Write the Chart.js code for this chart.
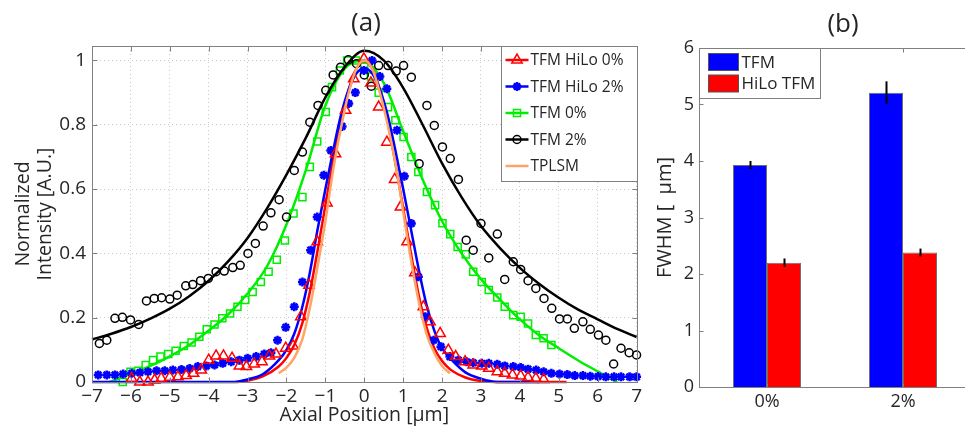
<!DOCTYPE html>
<html>
<head>
<meta charset="utf-8">
<script src="https://cdn.jsdelivr.net/npm/chart.js@4.4.1/dist/chart.umd.min.js"></script>
<style>
  html, body { margin: 0; padding: 0; background: #fff; overflow: hidden; width: 965px; height: 430px; }
  canvas { position: absolute; top: 0; }
  #chartA { left: 0; }
  #chartB { left: 645px; }
  .ttl { position: absolute; font: 26px "Open Sans", sans-serif; color: #262626; transform: translate(-50%, -50%); white-space: nowrap; }
</style>
</head>
<body>
<canvas id="chartA" width="645" height="430"></canvas>
<canvas id="chartB" width="330" height="430"></canvas>
<div class="ttl" style="left:366px;top:21px">(a)</div>
<div class="ttl" style="left:843px;top:22px">(b)</div>
<script>
const FONT = '"Open Sans", sans-serif';
const TXT = '#262626';
const AXIS = '#808080';

// ---- (a) axial profiles ----
const xTicks = [-7, -6, -5, -4, -3, -2, -1, 0, 1, 2, 3, 4, 5, 6, 7];
const yTicks = [0, 0.2, 0.4, 0.6, 0.8, 1];
const seriesNames = ['TFM HiLo 0%', 'TFM HiLo 2%', 'TFM 0%', 'TFM 2%', 'TPLSM'];

// TFM HiLo 0% (measured, triangles)
const hilo0PtsX = [-5.98,-5.77,-5.56,-5.39,-5.22,-5.0,-4.79,-4.58,-4.39,-4.19,-4.0,-3.81,-3.62,-3.4,-3.21,-3.03,-2.83,-2.63,-2.44,-2.27,-2.02,-1.83,-1.63,-1.42,-1.21,-0.96,-0.74,-0.48,-0.27,-0.01,0.17,0.37,0.58,0.78,0.93,1.1,1.3,1.52,1.69,1.95,2.16,2.35,2.59,2.8,3.02,3.2,3.42,3.61,3.81,4.02,4.21,4.41,4.61];
const hilo0PtsY = [0.011,0,0,0.006,0.011,0.015,0.016,0.02,0.027,0.037,0.068,0.081,0.081,0.074,0.05,0.048,0.056,0.063,0.081,0.087,0.105,0.112,0.203,0.301,0.436,0.557,0.71,0.845,0.943,1.005,0.93,0.855,0.746,0.63,0.544,0.436,0.34,0.234,0.187,0.151,0.099,0.079,0.063,0.053,0.05,0.043,0.032,0.027,0.022,0.019,0.014,0.011,0.008];
const hilo0FitX = [-3.3,-3.0,-2.6,-2.2,-2.0,-1.8,-1.6,-1.4,-1.2,-1.0,-0.8,-0.6,-0.4,-0.2,0,0.2,0.4,0.6,0.8,1.0,1.2,1.4,1.6,1.8,2.0,2.2,2.6,3.0,3.4,5.2];
const hilo0FitY = [0,0.004,0.018,0.048,0.075,0.115,0.18,0.28,0.41,0.55,0.69,0.81,0.91,0.975,1.0,0.975,0.91,0.81,0.68,0.54,0.40,0.27,0.17,0.105,0.065,0.04,0.014,0.003,0,0];

// TFM HiLo 2% (measured, stars)
const hilo2PtsX = [-6.84,-6.62,-6.41,-6.2,-5.98,-5.77,-5.56,-5.34,-5.13,-4.92,-4.7,-4.49,-4.28,-4.06,-3.85,-3.64,-3.42,-3.21,-3.0,-2.78,-2.57,-2.4,-2.23,-2.02,-1.8,-1.59,-1.38,-1.21,-1.04,-0.86,-0.57,-0.4,-0.23,-0.01,0.2,0.4,0.58,0.84,1.03,1.21,1.39,1.57,1.78,1.97,2.2,2.42,2.63,2.8,3.02,3.2,3.42,3.61,3.83,4.02,4.21,4.42,4.61,4.81,5.02,5.22,5.41,5.62,5.81,6.01,6.21,6.42,6.6,6.82,7.0];
const hilo2PtsY = [0.022,0.022,0.022,0.025,0.027,0.029,0.032,0.035,0.035,0.037,0.039,0.042,0.048,0.05,0.053,0.058,0.063,0.068,0.074,0.079,0.087,0.091,0.13,0.17,0.234,0.311,0.41,0.513,0.643,0.72,0.795,0.866,0.9,0.969,1.0,0.95,0.912,0.783,0.64,0.493,0.327,0.203,0.13,0.11,0.079,0.068,0.063,0.06,0.058,0.058,0.055,0.05,0.048,0.045,0.04,0.037,0.032,0.027,0.025,0.023,0.02,0.02,0.018,0.017,0.016,0.016,0.016,0.016,0.016];
const hilo2FitX = [-7,-3.4,-3.0,-2.6,-2.2,-2.0,-1.8,-1.6,-1.4,-1.2,-1.0,-0.8,-0.6,-0.4,-0.2,0,0.2,0.4,0.6,0.8,1.0,1.2,1.4,1.6,1.8,2.0,2.2,2.6,3.0,3.4,4.5];
const hilo2FitY = [0,0,0.008,0.025,0.068,0.10,0.15,0.23,0.34,0.475,0.60,0.72,0.83,0.91,0.96,0.975,0.96,0.91,0.83,0.72,0.60,0.475,0.35,0.24,0.16,0.105,0.075,0.03,0.01,0,0];

// TFM 0% (measured, squares)
const tfm0PtsX = [-6.21,-6.01,-5.81,-5.62,-5.43,-5.24,-5.04,-4.85,-4.64,-4.44,-4.24,-4.05,-3.85,-3.65,-3.45,-3.26,-3.06,-2.87,-2.66,-2.46,-2.25,-2.04,-1.82,-1.59,-1.4,-1.21,-0.99,-0.83,-0.63,-0.44,-0.22,0.0,0.17,0.37,0.61,0.8,1.01,1.21,1.39,1.61,1.82,2.01,2.21,2.4,2.61,2.8,3.02,3.2,3.42,3.61,3.83,4.02,4.21,4.41,4.61,4.81];
const tfm0PtsY = [0.0,0.032,0.035,0.053,0.068,0.079,0.087,0.097,0.112,0.123,0.141,0.164,0.179,0.198,0.213,0.234,0.255,0.28,0.311,0.343,0.38,0.44,0.524,0.575,0.669,0.748,0.84,0.917,0.969,1.0,1.0,0.98,0.95,0.9,0.855,0.814,0.762,0.7,0.653,0.591,0.55,0.494,0.46,0.42,0.397,0.343,0.311,0.286,0.263,0.234,0.208,0.203,0.182,0.146,0.136,0.115];
const tfm0FitX = [-6.55,-6,-5.5,-5,-4.5,-4,-3.5,-3,-2.5,-2,-1.5,-1,-0.5,-0.05,0.5,1,1.5,2,2.5,3,3.5,4,4.5,5,5.5,6,6.5];
const tfm0FitY = [0,0.025,0.05,0.08,0.115,0.16,0.21,0.275,0.36,0.49,0.66,0.86,0.975,1.0,0.93,0.78,0.63,0.50,0.40,0.32,0.255,0.195,0.145,0.105,0.067,0.033,0];

// TFM 2% (measured, circles)
const tfm2PtsX = [-6.81,-6.62,-6.41,-6.22,-6.01,-5.8,-5.6,-5.4,-5.21,-5.0,-4.81,-4.59,-4.41,-4.21,-4.01,-3.81,-3.6,-3.38,-3.19,-2.99,-2.8,-2.6,-2.4,-2.19,-2.0,-1.8,-1.59,-1.4,-1.19,-0.99,-0.8,-0.61,-0.41,-0.2,0.0,0.18,0.37,0.61,0.82,1.01,1.21,1.41,1.61,1.8,2.01,2.21,2.42,2.62,2.8,3.0,3.2,3.42,3.61,3.83,4.02,4.21,4.41,4.62,4.82,5.02,5.22,5.4,5.62,5.81,6.02,6.21,6.41,6.6,6.81,7.0];
const tfm2PtsY = [0.12,0.13,0.198,0.201,0.193,0.179,0.252,0.26,0.262,0.258,0.27,0.299,0.303,0.315,0.322,0.343,0.345,0.356,0.363,0.4,0.431,0.485,0.526,0.567,0.513,0.658,0.715,0.808,0.86,0.907,0.955,0.979,1.002,0.99,0.955,0.92,0.984,0.984,0.967,0.984,0.948,0.679,0.86,0.798,0.731,0.695,0.63,0.441,0.41,0.493,0.386,0.46,0.319,0.374,0.35,0.315,0.291,0.26,0.229,0.196,0.196,0.167,0.187,0.164,0.146,0.13,0.056,0.105,0.091,0.084];
const tfm2FitX = [-7,-6.5,-6,-5.5,-5,-4.5,-4,-3.5,-3,-2.5,-2,-1.5,-1,-0.5,0,0.5,1,1.5,2,2.5,3,3.5,4,4.5,5,5.5,6,6.5,7];
const tfm2FitY = [0.132,0.15,0.171,0.197,0.228,0.267,0.315,0.375,0.448,0.54,0.645,0.76,0.885,0.98,1.03,1.0,0.915,0.80,0.68,0.575,0.485,0.415,0.355,0.305,0.262,0.225,0.195,0.165,0.14];

// TPLSM (line only)
const tplsmX = [-2.2,-2.0,-1.8,-1.6,-1.4,-1.2,-1.0,-0.8,-0.6,-0.4,-0.2,0,0.2,0.4,0.6,0.8,1.0,1.2,1.4,1.6,1.8,2.0,2.2];
const tplsmY = [0.027,0.045,0.075,0.13,0.23,0.36,0.50,0.66,0.79,0.90,0.975,1.0,0.975,0.90,0.80,0.68,0.53,0.38,0.25,0.15,0.09,0.05,0.027];

// ---- (b) FWHM bars ----
const categories = ['0%', '2%'];
const fwhmTFM = [3.93, 5.21];
const fwhmTFMErr = [0.07, 0.2];
const fwhmHiLo = [2.2, 2.38];
const fwhmHiLoErr = [0.075, 0.07];
const fwhmTicks = [0, 1, 2, 3, 4, 5, 6];
const barNames = ['TFM', 'HiLo TFM'];

const RED = '#ff0000', BLUE = '#0000ff', GREEN = '#00ee00', BLACK = '#000000', ORANGE = '#ffa466';

const xy = (xs, ys) => xs.map((x, i) => ({x: x, y: ys[i]}));

function fitSet(xs, ys, color) {
  return {data: xy(xs, ys), showLine: true, borderColor: color, borderWidth: 2.5,
    pointRadius: 0, fill: false, cubicInterpolationMode: 'monotone', clip: false};
}
function ptSet(xs, ys, color, style, r, bw) {
  return {data: xy(xs, ys), showLine: false, pointStyle: style, pointRadius: r,
    pointBorderColor: color, pointBackgroundColor: 'rgba(0,0,0,0)', pointBorderWidth: bw, clip: false};
}

function drawMark(ctx, style, x, y, r, bw) {
  ctx.lineWidth = bw;
  if (Chart.helpers && Chart.helpers.drawPoint) {
    Chart.helpers.drawPoint(ctx, {pointStyle: style, radius: r, rotation: 0, borderWidth: bw}, x, y);
  }
}

const frame = {
  id: 'frame',
  afterDatasetsDraw(chart, args, opts) {
    const {ctx, chartArea: a, scales} = chart;
    const L = Math.round(a.left) + 0.5, R = Math.round(a.right) + 0.5;
    const T = Math.round(a.top) + 0.5, B = Math.round(a.bottom) + 0.5;
    const tl = opts.tickLen || 5;
    ctx.save();
    ctx.strokeStyle = AXIS;
    ctx.lineWidth = 1;
    ctx.setLineDash([]);
    ctx.strokeRect(L, T, R - L, B - T);
    ctx.beginPath();
    scales.x.ticks.forEach((t, i) => {
      const px = Math.round(scales.x.getPixelForTick(i)) + 0.5;
      ctx.moveTo(px, B); ctx.lineTo(px, B - tl);
      ctx.moveTo(px, T); ctx.lineTo(px, T + tl);
    });
    scales.y.ticks.forEach((t, i) => {
      const py = Math.round(scales.y.getPixelForTick(i)) + 0.5;
      ctx.moveTo(L, py); ctx.lineTo(L + tl, py);
      ctx.moveTo(R, py); ctx.lineTo(R - tl, py);
    });
    ctx.stroke();
    ctx.restore();
  }
};

const legendA = {
  id: 'legendA',
  afterDraw(chart) {
    const {ctx, chartArea: a} = chart;
    const w = 136, h = 135;
    const x0 = Math.round(a.right) - w + 0.5, y0 = Math.round(a.top) + 0.5;
    const items = [
      {color: RED, style: 'triangle', r: 6, bw: 1.5},
      {color: BLUE, style: 'star', r: 4.5, bw: 2.5},
      {color: GREEN, style: 'rect', r: 5, bw: 1.5},
      {color: BLACK, style: 'circle', r: 4, bw: 1.5},
      {color: ORANGE, style: null}
    ];
    ctx.save();
    ctx.fillStyle = '#fff';
    ctx.fillRect(x0, y0, w, h);
    ctx.strokeStyle = AXIS;
    ctx.lineWidth = 1;
    ctx.strokeRect(x0, y0, w, h);
    ctx.font = '15.5px ' + FONT;
    ctx.textBaseline = 'middle';
    items.forEach((it, i) => {
      const cy = y0 + 13.5 + i * 26.5;
      ctx.strokeStyle = it.color;
      ctx.lineWidth = 2.5;
      ctx.beginPath();
      ctx.moveTo(x0 + 4, cy); ctx.lineTo(x0 + 27, cy);
      ctx.stroke();
      if (it.style) {
        ctx.fillStyle = 'rgba(0,0,0,0)';
        drawMark(ctx, it.style, x0 + 15.5, cy, it.r, it.bw);
      }
      ctx.fillStyle = TXT;
      ctx.fillText(seriesNames[i], x0 + 29, cy + 1);
    });
    ctx.restore();
  }
};

new Chart(document.getElementById('chartA'), {
  type: 'scatter',
  data: {
    datasets: [
      fitSet(tplsmX, tplsmY, ORANGE),
      ptSet(hilo0PtsX, hilo0PtsY, RED, 'triangle', 6, 1.5),
      ptSet(hilo2PtsX, hilo2PtsY, BLUE, 'star', 4.5, 2.5),
      fitSet(hilo2FitX, hilo2FitY, BLUE),
      fitSet(hilo0FitX, hilo0FitY, RED),
      ptSet(tfm2PtsX, tfm2PtsY, BLACK, 'circle', 4, 1.5),
      fitSet(tfm2FitX, tfm2FitY, BLACK),
      ptSet(tfm0PtsX, tfm0PtsY, GREEN, 'rect', 5, 1.5),
      fitSet(tfm0FitX, tfm0FitY, GREEN)
    ]
  },
  options: {
    responsive: false,
    animation: false,
    events: [],
    layout: {padding: {top: 46, right: 6, left: 0, bottom: 0}},
    plugins: {legend: {display: false}, tooltip: {enabled: false}, frame: {tickLen: 5}},
    scales: {
      x: {
        type: 'linear', min: -7, max: 7,
        afterBuildTicks: s => { s.ticks = xTicks.map(v => ({value: v})); },
        afterFit: s => { s.height = 48; },
        ticks: {font: {family: FONT, size: 19}, color: TXT, padding: 3, maxRotation: 0, autoSkip: false,
          callback: v => (v < 0 ? '\u2212' + Math.abs(v) : String(v))},
        grid: {color: '#c8c8c8', lineWidth: 1, drawTicks: false},
        border: {display: false, dash: [1, 3]},
        title: {display: true, text: 'Axial Position [\u03bcm]', font: {family: FONT, size: 19.5, lineHeight: 1.1}, color: TXT, padding: {top: 0, bottom: 4}}
      },
      y: {
        type: 'linear', min: 0, max: 1.045,
        afterBuildTicks: s => { s.ticks = yTicks.map(v => ({value: v})); },
        afterFit: s => { s.width = 92; },
        ticks: {font: {family: FONT, size: 19}, color: TXT, padding: 6,
          callback: v => String(Math.round(v * 10) / 10)},
        grid: {color: '#c8c8c8', lineWidth: 1, drawTicks: false},
        border: {display: false, dash: [1, 3]},
        title: {display: true, text: ['Normalized', 'Intensity [A.U.]'], font: {family: FONT, size: 19.5, lineHeight: 1.1}, color: TXT, padding: {top: 13, bottom: 0}}
      }
    }
  },
  plugins: [frame, legendA]
});

const errorBars = {
  id: 'errorBars',
  afterDatasetsDraw(chart) {
    const {ctx, scales: {y}} = chart;
    const errs = [fwhmTFMErr, fwhmHiLoErr];
    ctx.save();
    ctx.strokeStyle = '#000';
    ctx.lineWidth = 2;
    chart.data.datasets.forEach((ds, di) => {
      chart.getDatasetMeta(di).data.forEach((bar, i) => {
        const v = ds.data[i], e = errs[di][i];
        const x = Math.round(bar.x) + 0.5;
        ctx.beginPath();
        ctx.moveTo(x, y.getPixelForValue(v + e));
        ctx.lineTo(x, y.getPixelForValue(v - e));
        ctx.stroke();
      });
    });
    ctx.restore();
  }
};

const legendB = {
  id: 'legendB',
  afterDraw(chart) {
    const {ctx, chartArea: a} = chart;
    const x0 = Math.round(a.left) + 0.5, y0 = Math.round(a.top) + 0.5;
    const colors = [BLUE, RED];
    ctx.save();
    ctx.fillStyle = '#fff';
    ctx.fillRect(x0, y0, 121, 50);
    ctx.strokeStyle = AXIS;
    ctx.lineWidth = 1;
    ctx.strokeRect(x0, y0, 121, 50);
    ctx.font = '17px ' + FONT;
    ctx.textBaseline = 'middle';
    colors.forEach((c, i) => {
      const top = y0 + 5 + i * 21.5;
      ctx.fillStyle = c;
      ctx.fillRect(x0 + 9, top, 30, 17);
      ctx.strokeStyle = '#555';
      ctx.strokeRect(x0 + 9, top, 30, 17);
      ctx.fillStyle = TXT;
      ctx.fillText(barNames[i], x0 + 42, top + 9.5);
    });
    ctx.restore();
  }
};

new Chart(document.getElementById('chartB'), {
  type: 'bar',
  data: {
    labels: categories,
    datasets: [
      {label: barNames[0], data: fwhmTFM, backgroundColor: BLUE, borderColor: 'rgba(50,50,50,0.7)', borderWidth: 1,
        categoryPercentage: 0.5, barPercentage: 1.0},
      {label: barNames[1], data: fwhmHiLo, backgroundColor: RED, borderColor: 'rgba(50,50,50,0.7)', borderWidth: 1,
        categoryPercentage: 0.5, barPercentage: 1.0}
    ]
  },
  options: {
    responsive: false,
    animation: false,
    events: [],
    layout: {padding: {top: 48, right: 4, left: 0, bottom: 0}},
    plugins: {legend: {display: false}, tooltip: {enabled: false}, frame: {tickLen: 4}},
    scales: {
      x: {
        afterFit: s => { s.height = 43; },
        ticks: {font: {family: FONT, size: 18}, color: TXT, padding: 4},
        grid: {display: false, drawTicks: false},
        border: {display: false}
      },
      y: {
        min: 0, max: 6,
        afterBuildTicks: s => { s.ticks = fwhmTicks.map(v => ({value: v})); },
        afterFit: s => { s.width = 54; },
        ticks: {font: {family: FONT, size: 18}, color: TXT, padding: 5},
        grid: {display: false, drawTicks: false},
        border: {display: false},
        title: {display: true, text: 'FWHM [  \u03bcm]', font: {family: FONT, size: 20, lineHeight: 1.1}, color: TXT, padding: {top: 9, bottom: 0}}
      }
    }
  },
  plugins: [frame, errorBars, legendB]
});
</script>
</body>
</html>
